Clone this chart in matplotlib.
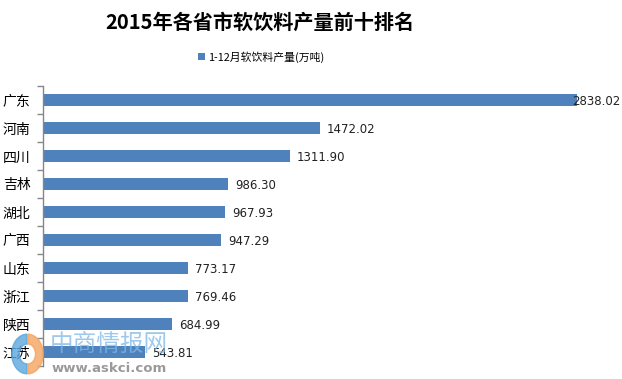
import matplotlib
matplotlib.use("Agg")
import matplotlib.pyplot as plt
import numpy as np
from matplotlib.patches import Wedge

plt.rcParams['font.family'] = ['Noto Sans CJK SC', 'DejaVu Sans']

categories = ["广东", "河南", "四川", "吉林", "湖北", "广西", "山东", "浙江", "陕西", "江苏"]
values = [2838.02, 1472.02, 1311.90, 986.30, 967.93, 947.29, 773.17, 769.46, 684.99, 543.81]
series_name = "1-12月软饮料产量(万吨)"
title = "2015年各省市软饮料产量前十排名"

W, H = 622, 379
fig = plt.figure(figsize=(W / 100, H / 100), dpi=100)
ax = fig.add_axes([43 / W, 13 / H, (607 - 43) / W, (366 - 86) / H])

n = len(categories)
y = np.arange(n)
bar_color = "#4F81BD"
ax.barh(y, values, height=0.43, color=bar_color, zorder=2, label=series_name)
ax.set_ylim(n - 0.5, -0.5)
ax.set_xlim(0, 3000)

# Spines
for s in ["top", "right", "bottom"]:
    ax.spines[s].set_visible(False)
ax.spines["left"].set_color("#868686")
ax.spines["left"].set_linewidth(1.0)
ax.set_xticks([])

# y ticks: labels at categories, tick marks between categories
ax.set_yticks(y)
ax.set_yticklabels(categories, fontsize=10, color="#000000")
ax.tick_params(axis="y", which="major", length=0, pad=9)
ax.set_yticks(np.arange(-0.5, n, 1.0), minor=True)
ax.tick_params(axis="y", which="minor", length=4, color="#868686", width=1.0, direction="out")

# Value labels
for yi, v in zip(y, values):
    off = 5
    if v > 2700:
        off = -3
    ax.annotate(f"{v:.2f}", xy=(v, yi), xytext=(off, -1), textcoords="offset points",
                ha="left", va="center", fontsize=8.5, color="#222222",
                family=["DejaVu Sans"], zorder=3)

# Title
fig.text(260 / W, 1 - 22 / H, title, ha="center", va="center", fontsize=14.5,
         fontweight="bold", color="#000000")

# Legend
leg = fig.legend(loc="center", bbox_to_anchor=(261 / W, 1 - 57 / H), frameon=False, fontsize=7.8,
                 handlelength=0.6, handleheight=0.6, handletextpad=0.3)

# Watermark
fig.text(50 / W, 1 - 344 / H, "中商情报网", ha="left", va="center", fontsize=17, color="#7FB8E6", alpha=0.75)
fig.text(52 / W, 1 - 368 / H, "www.askci.com", ha="left", va="center", fontsize=9.5, color="#888888",
         fontweight="bold", family=["DejaVu Sans"], alpha=0.85)
wax = fig.add_axes([10 / W, 3 / H, 34 / W, 44 / H])
wax.set_xlim(-1, 1)
wax.set_ylim(-1, 1)
wax.axis("off")
wax.add_patch(Wedge((0, 0), 0.9, 90, 270, width=0.45, color="#5AA6DC", alpha=0.8))
wax.add_patch(Wedge((0.05, 0), 0.9, -90, 90, width=0.45, color="#F4A460", alpha=0.8))

fig.savefig("out.png", dpi=100)
